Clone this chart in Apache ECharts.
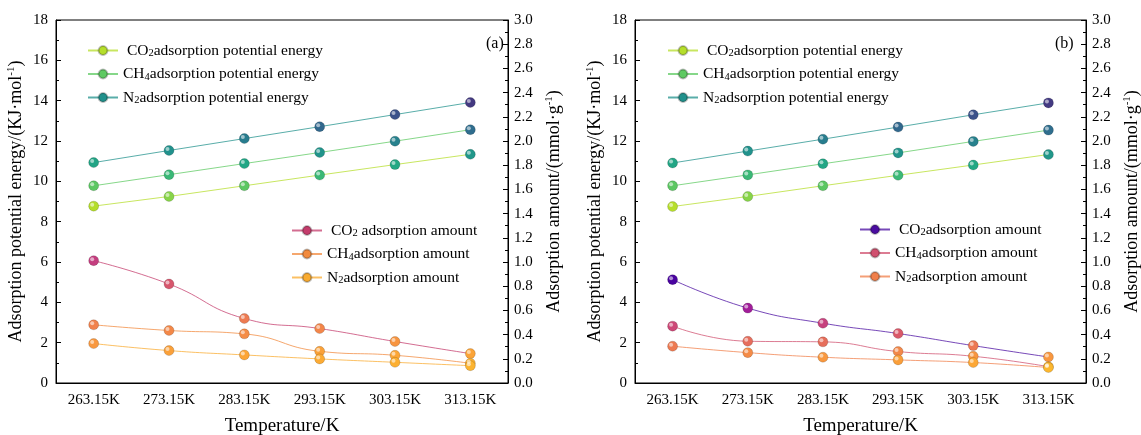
<!DOCTYPE html>
<html><head><meta charset="utf-8">
<script src="https://cdn.jsdelivr.net/npm/echarts@6/dist/echarts.min.js"></script>
<style>html,body{margin:0;padding:0;background:#fff}#c{width:1141px;height:435px}</style>
</head><body><div id="c"></div>
<script>
// ---------- data ----------
const categories = ['263.15K', '273.15K', '283.15K', '293.15K', '303.15K', '313.15K'];
// panel (a): adsorption potential energy (KJ/mol, left axis)
const peCO2_a = [8.77, 9.25, 9.78, 10.31, 10.83, 11.34];
const peCH4_a = [9.78, 10.33, 10.88, 11.43, 11.99, 12.56];
const peN2_a  = [10.93, 11.53, 12.12, 12.71, 13.31, 13.91];
// panel (a): adsorption amount (mmol/g, right axis)
const amCO2_a = [1.011, 0.818, 0.533, 0.450, 0.343, 0.243];
const amCH4_a = [0.481, 0.434, 0.406, 0.262, 0.229, 0.163];
const amN2_a  = [0.326, 0.268, 0.232, 0.199, 0.171, 0.143];
// panel (b)
const peCO2_b = [8.75, 9.25, 9.78, 10.30, 10.81, 11.33];
const peCH4_b = [9.78, 10.32, 10.87, 11.41, 11.98, 12.54];
const peN2_b  = [10.91, 11.50, 12.09, 12.69, 13.30, 13.89];
const amCO2_b = [0.854, 0.619, 0.494, 0.409, 0.309, 0.215];
const amCH4_b = [0.470, 0.345, 0.340, 0.260, 0.221, 0.135];
const amN2_b  = [0.304, 0.251, 0.213, 0.191, 0.169, 0.128];

// ---------- styles ----------
const FONT = 'Liberation Serif';
const viridisRev = ['#fde725','#bddf26','#7ad151','#44bf70','#22a884','#21918c','#2a788e','#355f8d','#414487','#482475','#440154'];
const plasmaRev = ['#f0f921','#fcce25','#fca636','#f2844b','#e16462','#cc4778','#b12a90','#8f0da4','#6a00a8','#41049d','#0d0887'];

const labels = {
  peCO2_a: '{t| CO}{s|2}{t|adsorption potential energy}',
  peCH4_a: '{t|CH}{s|4}{t|adsorption potential energy}',
  peN2_a:  '{t|N}{s|2}{t|adsorption potential energy}',
  amCO2_a: '{t| CO}{s|2}{t| adsorption amount}',
  amCH4_a: '{t|CH}{s|4}{t|adsorption amount}',
  amN2_a:  '{t|N}{s|2}{t|adsorption amount}',
  peCO2_b: '{t| CO}{s|2}{t|adsorption potential energy}',
  peCH4_b: '{t|CH}{s|4}{t|adsorption potential energy}',
  peN2_b:  '{t|N}{s|2}{t|adsorption potential energy}',
  amCO2_b: '{t| CO}{s|2}{t|adsorption amount}',
  amCH4_b: '{t|CH}{s|4}{t|adsorption amount}',
  amN2_b:  '{t|N}{s|2}{t|adsorption amount}'
};
const richLegend = {
  t: {fontFamily: FONT, fontSize: 15.5, color: '#000', lineHeight: 17},
  s: {fontFamily: FONT, fontSize: 10.5, color: '#000', lineHeight: 11, padding: [7, 0, 0, 0], verticalAlign: 'bottom'}
};
const richName = {
  t: {fontFamily: FONT, fontSize: 18, color: '#000', lineHeight: 20},
  p: {fontFamily: FONT, fontSize: 11, color: '#000', lineHeight: 11, padding: [0, 0, 10, 0], verticalAlign: 'top'}
};

function line(name, data, xi, yi, color, smooth) {
  return {
    type: 'line', name: name, data: data, xAxisIndex: xi, yAxisIndex: yi,
    symbol: 'circle', symbolSize: 10, smooth: smooth,
    itemStyle: {color: color, borderColor: 'rgba(0,0,0,0.25)', borderWidth: 0.6},
    lineStyle: {width: 1, color: color, opacity: 0.75},
    z: 3
  };
}
function shine(data, xi, yi) {
  return {
    type: 'scatter', data: data, xAxisIndex: xi, yAxisIndex: yi,
    symbol: 'circle', symbolSize: 4, symbolOffset: [-1.5, -1.5],
    itemStyle: {color: 'rgba(255,255,255,0.7)'}, silent: true, z: 4
  };
}
function legend(names, left, top) {
  return {
    data: names, left: left, top: top, orient: 'vertical', align: 'left',
    itemWidth: 30, itemHeight: 11, itemGap: 5.5, padding: 0,
    formatter: n => labels[n],
    textStyle: {rich: richLegend}
  };
}
function xAxes(gi) {
  const lbl = {fontFamily: FONT, fontSize: 15, color: '#000', margin: 10};
  return [
    {type: 'category', gridIndex: gi, data: categories, boundaryGap: true, position: 'bottom',
     axisLine: {lineStyle: {color: '#000', width: 1}},
     axisTick: {inside: true, length: 3, alignWithLabel: false, lineStyle: {color: '#000'}},
     axisLabel: lbl,
     name: 'Temperature/K', nameLocation: 'middle', nameGap: 34,
     nameTextStyle: {fontFamily: FONT, fontSize: 19, color: '#000'}},
    {type: 'category', gridIndex: gi, data: categories, boundaryGap: true, position: 'bottom',
     axisLine: {show: false},
     axisTick: {inside: true, length: 5, alignWithLabel: true, lineStyle: {color: '#000'}},
     axisLabel: {show: false}}
  ];
}
function yAxes(gi) {
  const lbl = {fontFamily: FONT, fontSize: 15, color: '#000'};
  return [
    {type: 'value', gridIndex: gi, position: 'left', min: 0, max: 18, interval: 2,
     axisLine: {show: true, lineStyle: {color: '#000'}},
     axisTick: {show: true, inside: true, length: 5, lineStyle: {color: '#000'}},
     minorTick: {show: true, splitNumber: 2, length: 3, lineStyle: {color: '#000'}},
     splitLine: {show: false},
     axisLabel: Object.assign({margin: 8}, lbl),
     name: '{t|Adsorption potential energy/(KJ·mol}{p|-1}{t|)}',
     nameLocation: 'middle', nameGap: 30, nameRotate: 90,
     nameTextStyle: {rich: richName}},
    {type: 'value', gridIndex: gi, position: 'right', min: 0, max: 3, interval: 0.2,
     axisLine: {show: true, lineStyle: {color: '#000'}},
     axisTick: {show: true, inside: true, length: 5, lineStyle: {color: '#000'}},
     minorTick: {show: true, splitNumber: 2, length: 3, lineStyle: {color: '#000'}},
     splitLine: {show: false},
     axisLabel: Object.assign({margin: 6, formatter: v => v.toFixed(1)}, lbl),
     name: '{t|Adsorption amount/(mmol·g}{p|-1}{t|)}',
     nameLocation: 'middle', nameGap: 36, nameRotate: 90,
     nameTextStyle: {rich: richName}}
  ];
}

const series = [
  line('peCO2_a', peCO2_a, 0, 0, '#b5de2b', false),
  line('peCH4_a', peCH4_a, 0, 0, '#5ec962', false),
  line('peN2_a',  peN2_a,  0, 0, '#21918c', false),
  line('amCO2_a', amCO2_a, 0, 1, '#c43c6c', true),
  line('amCH4_a', amCH4_a, 0, 1, '#f28a3d', true),
  line('amN2_a',  amN2_a,  0, 1, '#f9ab30', true),
  line('peCO2_b', peCO2_b, 2, 2, '#b5de2b', false),
  line('peCH4_b', peCH4_b, 2, 2, '#5ec962', false),
  line('peN2_b',  peN2_b,  2, 2, '#21918c', false),
  line('amCO2_b', amCO2_b, 2, 3, '#4a0ca0', true),
  line('amCH4_b', amCH4_b, 2, 3, '#d0506f', true),
  line('amN2_b',  amN2_b,  2, 3, '#f07f4a', true),
  shine(peCO2_a, 0, 0), shine(peCH4_a, 0, 0), shine(peN2_a, 0, 0),
  shine(amCO2_a, 0, 1), shine(amCH4_a, 0, 1), shine(amN2_a, 0, 1),
  shine(peCO2_b, 2, 2), shine(peCH4_b, 2, 2), shine(peN2_b, 2, 2),
  shine(amCO2_b, 2, 3), shine(amCH4_b, 2, 3), shine(amN2_b, 2, 3)
];

const option = {
  animation: false,
  backgroundColor: '#fff',
  grid: [
    {left: 56, top: 20, width: 452, height: 363, show: true, borderColor: '#000', borderWidth: 1, outerBoundsMode: 'none', containLabel: false},
    {left: 635, top: 20, width: 451, height: 363, show: true, borderColor: '#000', borderWidth: 1, outerBoundsMode: 'none', containLabel: false}
  ],
  xAxis: xAxes(0).concat(xAxes(1)),
  yAxis: yAxes(0).concat(yAxes(1)),
  legend: [
    legend(['peCO2_a', 'peCH4_a', 'peN2_a'], 87, 41),
    legend(['amCO2_a', 'amCH4_a', 'amN2_a'], 291, 221),
    legend(['peCO2_b', 'peCH4_b', 'peN2_b'], 667, 41),
    legend(['amCO2_b', 'amCH4_b', 'amN2_b'], 859, 220)
  ],
  visualMap: [
    {type: 'continuous', show: false, seriesIndex: [0, 1, 2], dimension: 1, min: 7.96, max: 15.1, inRange: {color: viridisRev}},
    {type: 'continuous', show: false, seriesIndex: [3, 4, 5], dimension: 1, min: -0.25, max: 2.13, inRange: {color: plasmaRev}},
    {type: 'continuous', show: false, seriesIndex: [6, 7, 8], dimension: 1, min: 7.96, max: 15.1, inRange: {color: viridisRev}},
    {type: 'continuous', show: false, seriesIndex: [9, 10, 11], dimension: 1, min: -0.03, max: 0.975, inRange: {color: plasmaRev}}
  ],
  graphic: [
    {type: 'text', left: 486, top: 36, style: {text: '(a)', font: '16px "Liberation Serif"', fill: '#000'}},
    {type: 'text', left: 1055, top: 36, style: {text: '(b)', font: '16px "Liberation Serif"', fill: '#000'}}
  ],
  series: series
};
const chart = echarts.init(document.getElementById('c'), null, {renderer: 'canvas'});
chart.setOption(option);
</script>
</body></html>
